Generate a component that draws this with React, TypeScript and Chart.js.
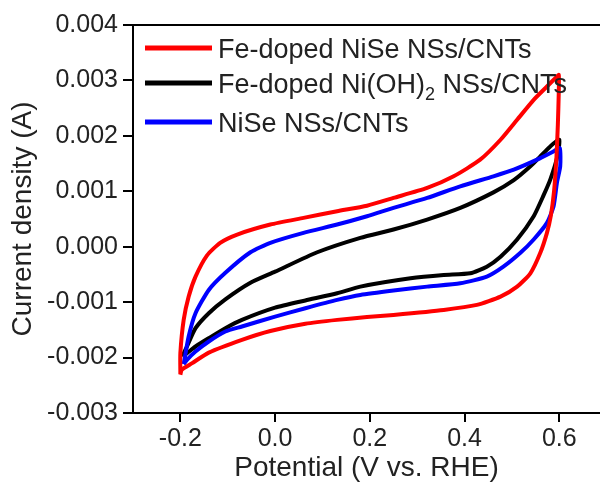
import { useEffect, useRef } from 'react';
import { Chart, registerables } from 'chart.js';

Chart.register(...registerables);

// ---- data (potential in V vs. RHE, current in A) ----
const seriesLabels = ['Fe-doped NiSe NSs/CNTs', 'Fe-doped Ni(OH)₂ NSs/CNTs', 'NiSe NSs/CNTs'];
const seriesColors = ['#ff0000', '#000000', '#0000ff'];

const feNiSePotential = [
  -0.200, -0.200, -0.193, -0.1825, -0.168, -0.144, -0.116, -0.080, -0.010, 0.060, 0.131, 0.194,
  0.250, 0.321, 0.377, 0.433, 0.476, 0.511, 0.546, 0.574, 0.595, 0.599,
  0.599, 0.597, 0.594, 0.589, 0.582, 0.574, 0.560, 0.539, 0.511, 0.476, 0.426, 0.356, 0.250, 0.194,
  0.131, 0.064, -0.010, -0.070, -0.140, -0.175, -0.197, -0.200,
];
const feNiSeCurrent = [
  -0.00230, -0.00192, -0.00132, -0.00090, -0.00054, -0.00016, 0.00007, 0.00022, 0.00040, 0.00052, 0.00064, 0.00074,
  0.00088, 0.00106, 0.00127, 0.00157, 0.00193, 0.00229, 0.00265, 0.00289, 0.00307, 0.00310,
  0.00280, 0.00220, 0.00160, 0.00100, 0.00055, 0.00025, -0.00011, -0.00048, -0.00072, -0.00090, -0.00105, -0.00114, -0.00123, -0.00127,
  -0.00132, -0.00139, -0.00152, -0.00168, -0.00191, -0.00210, -0.00222, -0.00231,
];

const feNiOHPotential = [
  -0.196, -0.186, -0.168, -0.140, -0.105, -0.052, 0.000, 0.089, 0.180, 0.250, 0.321, 0.391, 0.461, 0.504, 0.539, 0.560, 0.581, 0.600,
  0.596, 0.581, 0.567, 0.546, 0.511, 0.476, 0.447, 0.412, 0.356, 0.286, 0.180, 0.131, 0.064, 0.000, -0.070, -0.105, -0.140, -0.168, -0.186, -0.196,
];
const feNiOHCurrent = [
  -0.00198, -0.00180, -0.00147, -0.00120, -0.00095, -0.00065, -0.00045, -0.00010, 0.00016, 0.00031, 0.00049, 0.00070, 0.00098, 0.00120, 0.00145, 0.00163, 0.00181, 0.00193,
  0.00163, 0.00121, 0.00093, 0.00055, 0.00013, -0.00018, -0.00036, -0.00048, -0.00051, -0.00057, -0.00072, -0.00084, -0.00097, -0.00110, -0.00132, -0.00147, -0.00165, -0.00180, -0.00192, -0.00198,
];

const niSePotential = [
  -0.193, -0.1825, -0.168, -0.140, -0.105, -0.052, -0.010, 0.060, 0.131, 0.194, 0.250, 0.321, 0.391, 0.461, 0.504, 0.553, 0.588, 0.601,
  0.602, 0.595, 0.588, 0.574, 0.546, 0.518, 0.482, 0.447, 0.391, 0.321, 0.250, 0.180, 0.131, 0.064, 0.000, -0.070, -0.105, -0.140, -0.168, -0.186, -0.193,
];
const niSeCurrent = [
  -0.00212, -0.00162, -0.00120, -0.00078, -0.00047, -0.00010, 0.00007, 0.00025, 0.00040, 0.00055, 0.00070, 0.00088, 0.00109, 0.00127, 0.00139, 0.00157, 0.00172, 0.00178,
  0.00145, 0.00115, 0.00073, 0.00043, 0.00013, -0.00011, -0.00036, -0.00054, -0.00066, -0.00072, -0.00079, -0.00087, -0.00096, -0.00111, -0.00126, -0.00144, -0.00153, -0.00171, -0.00189, -0.00204, -0.00212,
];

const xTickValues = [-0.2, 0.0, 0.2, 0.4, 0.6];
const yTickValues = [-0.003, -0.002, -0.001, 0.0, 0.001, 0.002, 0.003, 0.004];

const FONT = '"Liberation Sans", Arial, sans-serif';
const TEXT = '#222222';

const toPoints = (xs: number[], ys: number[]) => xs.map((x, i) => ({ x, y: ys[i] }));

const legendPlugin = {
  id: 'cvLegend',
  afterDatasetsDraw(chart: any) {
    const ctx: CanvasRenderingContext2D = chart.ctx;
    const { left, top } = chart.chartArea;
    const rowOffsets = [23, 58, 97];
    ctx.save();
    chart.data.datasets.forEach((ds: any, i: number) => {
      const y = top + rowOffsets[i];
      ctx.strokeStyle = ds.borderColor;
      ctx.lineWidth = 5;
      ctx.lineCap = 'butt';
      ctx.beginPath();
      ctx.moveTo(left + 12, y);
      ctx.lineTo(left + 79, y);
      ctx.stroke();
      ctx.fillStyle = TEXT;
      ctx.textAlign = 'left';
      ctx.textBaseline = 'alphabetic';
      const parts = String(ds.label).split('₂');
      let x = left + 85;
      ctx.font = `27px ${FONT}`;
      ctx.fillText(parts[0], x, y + 9.5);
      x += ctx.measureText(parts[0]).width;
      if (parts.length > 1) {
        ctx.font = `18px ${FONT}`;
        ctx.fillText('2', x, y + 16.5);
        x += ctx.measureText('2').width;
        ctx.font = `27px ${FONT}`;
        ctx.fillText(parts[1], x, y + 9.5);
      }
    });
    ctx.restore();
  },
};

export default function App() {
  const canvasRef = useRef<HTMLCanvasElement | null>(null);

  useEffect(() => {
    if (!canvasRef.current) return;
    const mk = (i: number, xs: number[], ys: number[], order: number) => ({
      label: seriesLabels[i],
      data: toPoints(xs, ys),
      borderColor: seriesColors[i],
      backgroundColor: seriesColors[i],
      borderWidth: 4,
      pointRadius: 0,
      tension: 0.2,
      showLine: true,
      fill: false,
      order,
    });
    const chart = new Chart(canvasRef.current, {
      type: 'scatter',
      data: {
        datasets: [
          mk(0, feNiSePotential, feNiSeCurrent, 0),
          mk(1, feNiOHPotential, feNiOHCurrent, 2),
          mk(2, niSePotential, niSeCurrent, 1),
        ],
      },
      options: {
        animation: false,
        responsive: true,
        maintainAspectRatio: false,
        layout: { padding: { top: 25, left: 0, right: 0, bottom: 0 } },
        plugins: { legend: { display: false }, tooltip: { enabled: false } },
        scales: {
          x: {
            type: 'linear',
            min: -0.3,
            max: 0.686,
            afterBuildTicks: (s: any) => {
              s.ticks = xTickValues.map((v) => ({ value: v }));
            },
            afterFit: (s: any) => {
              s.height = 69;
              s.paddingLeft = 0;
              s.paddingRight = 0;
            },
            ticks: {
              color: TEXT,
              font: { family: FONT, size: 25 },
              padding: 2,
              maxRotation: 0,
              autoSkip: false,
              callback: (v: any) => Number(v).toFixed(1),
            },
            grid: { display: true, drawOnChartArea: false, drawTicks: true, tickLength: 9, color: '#000', lineWidth: 2 },
            border: { display: true, color: '#000', width: 2 },
            title: {
              display: true,
              text: 'Potential (V vs. RHE)',
              color: TEXT,
              font: { family: FONT, size: 28, lineHeight: 1 },
              padding: { top: 0, bottom: 0 },
            },
          },
          x2: {
            type: 'linear',
            position: 'top',
            min: -0.3,
            max: 0.686,
            afterFit: (s: any) => {
              s.height = 0;
              s.paddingLeft = 0;
              s.paddingRight = 0;
            },
            ticks: { display: false },
            grid: { display: false, drawTicks: false },
            border: { display: true, color: '#000', width: 2 },
          },
          y: {
            type: 'linear',
            min: -0.003,
            max: 0.004,
            afterBuildTicks: (s: any) => {
              s.ticks = yTickValues.map((v) => ({ value: v }));
            },
            afterFit: (s: any) => {
              s.width = 133;
              s.paddingTop = 0;
              s.paddingBottom = 0;
            },
            ticks: {
              color: TEXT,
              font: { family: FONT, size: 25 },
              padding: 5,
              autoSkip: false,
              callback: (v: any) => Number(v).toFixed(3),
            },
            grid: { display: true, drawOnChartArea: false, drawTicks: true, tickLength: 10, color: '#000', lineWidth: 2 },
            border: { display: true, color: '#000', width: 2 },
            title: {
              display: true,
              text: 'Current density (A)',
              color: TEXT,
              font: { family: FONT, size: 28, lineHeight: 1 },
              padding: { top: 9, bottom: 0 },
            },
          },
        },
      },
      plugins: [legendPlugin],
    } as any);
    return () => chart.destroy();
  }, []);

  return (
    <div style={{ position: 'absolute', left: 0, top: 0, width: 600, height: 482 }}>
      <canvas ref={canvasRef} />
    </div>
  );
}
